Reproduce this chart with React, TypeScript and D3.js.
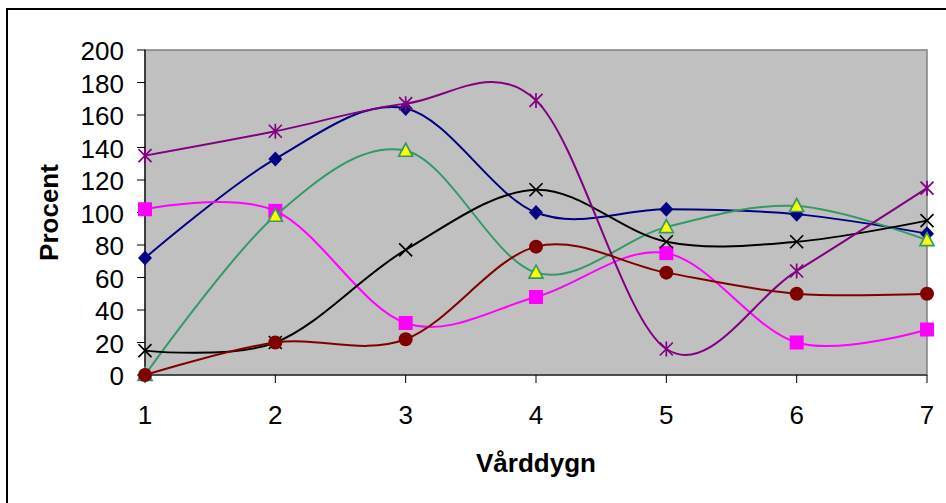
import React from 'react';
import * as d3 from 'd3';

// Care days on the x axis
const days = [1, 2, 3, 4, 5, 6, 7];

// Percent values per series
const blueDiamond = [72, 133, 164, 100, 102, 99, 87];
const magentaSquare = [102, 101, 32, 48, 75, 20, 28];
const yellowTriangle = [0, 98, 138, 63, 91, 104, 83];
const blackCross = [15, 20, 77, 114, 82, 82, 95];
const purpleStar = [135, 150, 167, 169, 16, 64, 115];
const redCircle = [0, 20, 22, 79, 63, 50, 50];

const yTicks = [0, 20, 40, 60, 80, 100, 120, 140, 160, 180, 200];

const W = 946;
const H = 503;
const plot = { left: 145, right: 927, top: 50, bottom: 375 };
const FONT = '"Liberation Sans", Arial, sans-serif';

type Marker = 'diamond' | 'square' | 'triangle' | 'cross' | 'star' | 'circle';

const series: { values: number[]; line: string; marker: Marker }[] = [
  { values: blueDiamond, line: '#000080', marker: 'diamond' },
  { values: magentaSquare, line: '#FF00FF', marker: 'square' },
  { values: yellowTriangle, line: '#339966', marker: 'triangle' },
  { values: blackCross, line: '#000000', marker: 'cross' },
  { values: purpleStar, line: '#800080', marker: 'star' },
  { values: redCircle, line: '#800000', marker: 'circle' },
];

function MarkerShape({ kind, x, y, color }: { kind: Marker; x: number; y: number; color: string }) {
  const t = `translate(${x},${y})`;
  switch (kind) {
    case 'diamond':
      return <path transform={t} d="M0,-7.5L7,0L0,7.5L-7,0Z" fill="#000080" />;
    case 'square':
      return <rect transform={t} x={-7} y={-7} width={14} height={14} fill="#FF00FF" />;
    case 'triangle':
      return <path transform={t} d="M0,-7.5L7,5.5L-7,5.5Z" fill="#FFFF00" stroke="#339966" strokeWidth={1.7} />;
    case 'cross':
      return <path transform={t} d="M-6.5,-6.5L6.5,6.5M-6.5,6.5L6.5,-6.5" stroke={color} strokeWidth={1.7} fill="none" />;
    case 'star':
      return (
        <path
          transform={t}
          d="M-6.5,-6.5L6.5,6.5M-6.5,6.5L6.5,-6.5M0,-7.5L0,7.5"
          stroke={color}
          strokeWidth={1.7}
          fill="none"
        />
      );
    case 'circle':
      return <circle cx={x} cy={y} r={7} fill="#800000" />;
  }
}

export default function App() {
  const x = d3.scalePoint<number>().domain(days).range([plot.left, plot.right]);
  const y = d3.scaleLinear().domain([0, 200]).range([plot.bottom, plot.top]);

  const line = d3
    .line<number>()
    .x((_, i) => x(days[i]) as number)
    .y((d) => y(d))
    .curve(d3.curveCardinal.tension(0));

  return (
    <svg
      width={W}
      height={H}
      style={{ position: 'absolute', left: 0, top: 0, background: '#fff' }}
      fontFamily={FONT}
    >
      {/* chart frame */}
      <rect x={7} y={9} width={W + 20} height={H + 20} fill="#fff" stroke="#000" strokeWidth={2} />

      {/* plot area */}
      <rect
        x={plot.left}
        y={plot.top}
        width={plot.right - plot.left}
        height={plot.bottom - plot.top}
        fill="#C0C0C0"
        stroke="#808080"
        strokeWidth={1.5}
      />

      {/* value axis */}
      <line x1={plot.left} x2={plot.left} y1={plot.top} y2={plot.bottom} stroke="#000" strokeWidth={1.2} />
      {yTicks.map((v) => (
        <g key={v}>
          <line x1={plot.left - 8} x2={plot.left} y1={y(v)} y2={y(v)} stroke="#000" strokeWidth={1} />
          <text x={124} y={y(v) + 10} textAnchor="end" fontSize={26} fill="#000">
            {v}
          </text>
        </g>
      ))}

      {/* category axis */}
      <line x1={plot.left} x2={plot.right} y1={plot.bottom} y2={plot.bottom} stroke="#000" strokeWidth={1.2} />
      {days.map((d) => (
        <g key={d}>
          <line x1={x(d)} x2={x(d)} y1={plot.bottom} y2={plot.bottom + 8} stroke="#000" strokeWidth={1} />
          <text x={x(d)} y={424} textAnchor="middle" fontSize={26} fill="#000">
            {d}
          </text>
        </g>
      ))}

      {/* axis titles */}
      <text x={536} y={472} textAnchor="middle" fontSize={26} fontWeight="bold" fill="#000">
        Vårddygn
      </text>
      <text
        transform={`translate(58,${(plot.top + plot.bottom) / 2}) rotate(-90)`}
        textAnchor="middle"
        fontSize={26}
        fontWeight="bold"
        fill="#000"
      >
        Procent
      </text>

      {/* series */}
      {series.map((s, si) => (
        <g key={si}>
          <path d={line(s.values) ?? ''} fill="none" stroke={s.line} strokeWidth={2} />
          {s.values.map((v, i) => (
            <MarkerShape key={i} kind={s.marker} x={x(days[i]) as number} y={y(v)} color={s.line} />
          ))}
        </g>
      ))}
    </svg>
  );
}
